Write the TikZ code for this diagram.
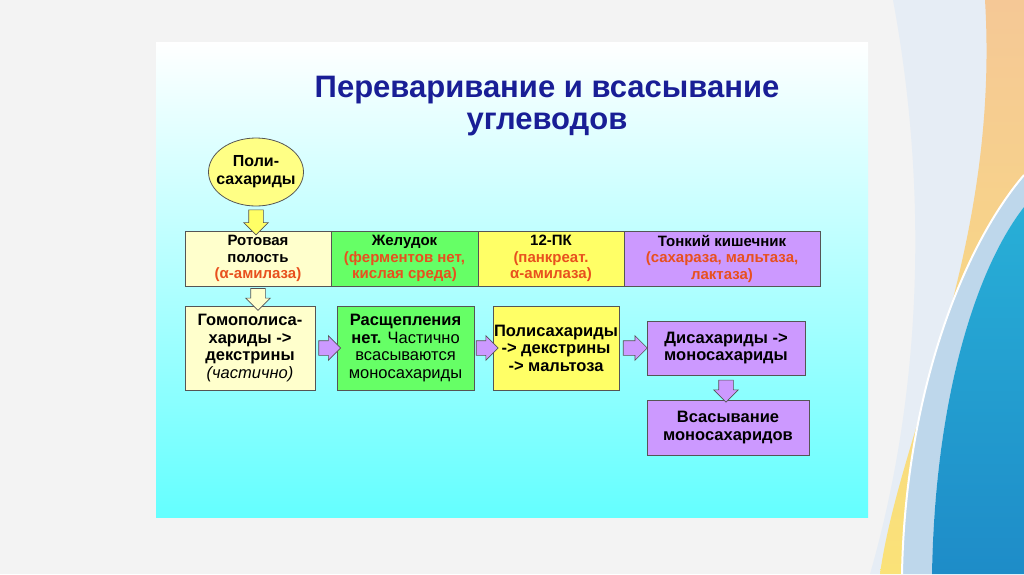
\documentclass[tikz,border=0pt]{standalone}
\usepackage{fontspec}
\setmainfont{Liberation Sans}
\usetikzlibrary{shapes.geometric,shapes.arrows,positioning,calc}

\definecolor{bggray}{RGB}{243,243,243}
\definecolor{palebl}{RGB}{230,237,245}
\definecolor{bandor}{RGB}{245,200,150}
\definecolor{bandye}{RGB}{250,226,120}
\definecolor{lightbl}{RGB}{190,215,235}
\definecolor{deepbl}{RGB}{30,140,200}
\definecolor{deepbltwo}{RGB}{40,175,215}
\definecolor{cyanbot}{RGB}{100,255,255}
\definecolor{titleblue}{RGB}{25,30,150}
\definecolor{txtred}{RGB}{232,80,30}
\definecolor{cellcream}{RGB}{255,255,204}
\definecolor{cellgreen}{RGB}{102,255,102}
\definecolor{cellyellow}{RGB}{255,255,102}
\definecolor{cellviolet}{RGB}{204,153,255}
\definecolor{edgegray}{RGB}{85,85,85}

\tikzset{
  cell/.style={draw=edgegray,line width=0.8pt,outer sep=0pt,inner sep=1pt,
    minimum height=55pt,align=center,font=\fontsize{15}{16.5}\selectfont\bfseries},
  stagebox/.style={draw=edgegray,line width=0.8pt,inner sep=1pt,align=center,
    font=\fontsize{16.5}{17.5}\selectfont\bfseries},
  blockarrow/.style={single arrow,draw=edgegray,line width=0.6pt,inner sep=7pt,
    single arrow head extend=5pt,single arrow head indent=0pt,minimum width=0pt},
  varrow/.style={blockarrow,fill=cellviolet},
}

\begin{document}
\begin{tikzpicture}[x=1pt,y=-1pt]
  \useasboundingbox (0,0) rectangle (1024,574);
  % slide background and the curved bands on the right
  \fill[bggray] (0,0) rectangle (1024,574);
  \fill[palebl] (893,0) .. controls (930,200) and (920,400) .. (870,574) -- (1024,574) -- (1024,0) -- cycle;
  \shade[top color=bandor,bottom color=bandye] (985,0) .. controls (1000,250) and (900,430) .. (880,574)
    -- (902,574) .. controls (905,400) and (960,250) .. (1024,175) -- (1024,0) -- cycle;
  \fill[lightbl] (1024,175) .. controls (960,250) and (905,400) .. (902,574)
    -- (932,574) .. controls (935,400) and (975,270) .. (1024,207) -- cycle;
  \draw[white,line width=2pt] (1024,175) .. controls (960,250) and (905,400) .. (902,574);
  \shade[top color=deepbltwo,bottom color=deepbl] (1024,207) .. controls (975,270) and (935,400) .. (932,574)
    -- (1024,574) -- cycle;
  % panel
  \shade[top color=white,bottom color=cyanbot] (156,42) rectangle (868,517);
  \node[titleblue,align=center,font=\fontsize{31}{32}\selectfont\bfseries] (title) at (547,106)
    {Переваривание и всасывание\\углеводов};

  \node[ellipse,draw=edgegray,line width=0.8pt,fill=cellyellow!70!cellcream,minimum width=95pt,
    minimum height=68pt,inner sep=-7pt,align=center,font=\fontsize{16}{18}\selectfont\bfseries]
    (poly) at (256,172) {Поли-\\сахариды};

  % row of the digestive sections
  \node[cell,fill=cellcream,minimum width=146pt] (mouth) at (258,258.5)
    {Ротовая\\полость\\\textcolor{txtred}{(α-амилаза)}};
  \node[cell,fill=cellgreen,minimum width=147pt,right=0pt of mouth] (stomach)
    {Желудок\\\textcolor{txtred}{(ферментов нет,}\\\textcolor{txtred}{кислая среда)}};
  \node[cell,fill=cellyellow,minimum width=146pt,right=0pt of stomach] (duod)
    {12-ПК\\\textcolor{txtred}{(панкреат.}\\\textcolor{txtred}{α-амилаза)}};
  \node[cell,fill=cellviolet,minimum width=196pt,right=0pt of duod] (intest)
    {Тонкий кишечник\\\textcolor{txtred}{(сахараза, мальтаза,}\\\textcolor{txtred}{лактаза)}};

  % what happens in each section
  \node[stagebox,fill=cellcream,minimum width=130pt,minimum height=84pt] (homo) at (250,348)
    {Гомополиса-\\хариды ->\\декстрины\\\mdseries\itshape (частично)};
  \node[stagebox,fill=cellgreen,minimum width=137pt,minimum height=84pt] (nosplit) at (405.5,348)
    {Расщепления\\нет. \mdseries Частично\\\mdseries всасываются\\\mdseries моносахариды};
  \node[stagebox,fill=cellyellow,minimum width=124pt,minimum height=84pt] (dextr) at (556,348)
    {Полисахариды\\-> декстрины\\-> мальтоза};
  \node[stagebox,fill=cellviolet,minimum width=158pt,minimum height=54pt] (disac) at (726,348)
    {Дисахариды ->\\моносахариды};
  \node[stagebox,fill=cellviolet,minimum width=162pt,minimum height=55pt] (absorb) at (728,427.5)
    {Всасывание\\моносахаридов};

  % block arrows
  \node[blockarrow,fill=cellyellow,shape border rotate=270,minimum height=25pt]
    at ($(poly.south)!0.5!(poly.south|-mouth.north)$) {};
  \node[blockarrow,fill=cellcream,shape border rotate=270,minimum height=20pt]
    at ($(mouth.south)!0.5!(mouth.south|-homo.north)$) {};
  \node[varrow,minimum height=19pt] at ($(homo.east)!0.5!(nosplit.west)$) {};
  \node[varrow,minimum height=19pt] at ($(nosplit.east)!0.5!(dextr.west)$) {};
  \node[varrow,minimum height=24pt] at ($(dextr.east)!0.45!(disac.west)$) {};
  \node[varrow,shape border rotate=270,minimum height=22pt]
    at ($(disac.south)!0.5!(disac.south|-absorb.north)$) {};
\end{tikzpicture}
\end{document}
